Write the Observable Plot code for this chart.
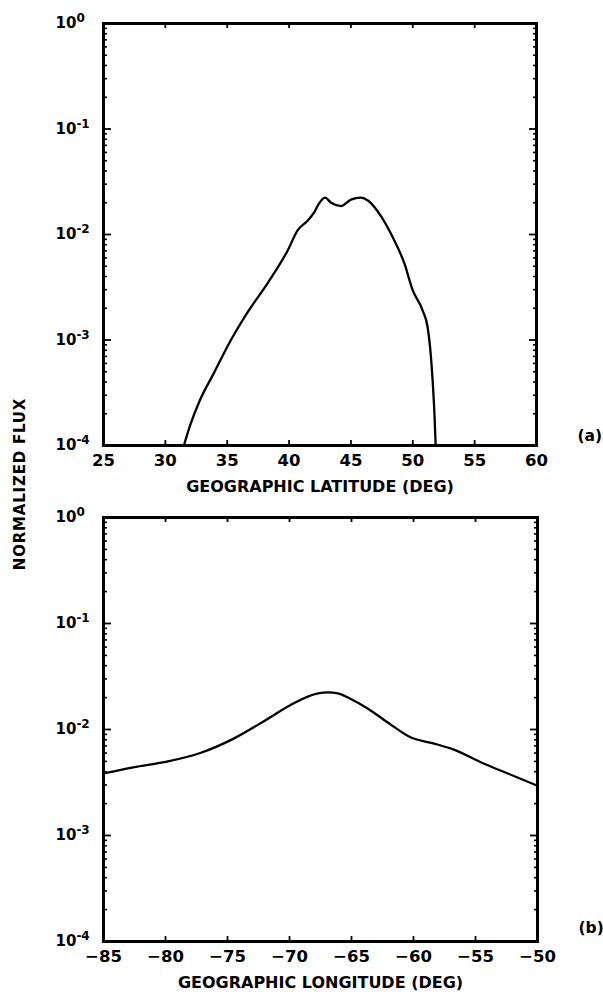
<!DOCTYPE html>
<html>
<head>
<meta charset="utf-8">
<script src="https://cdn.jsdelivr.net/npm/d3@7"></script>
<script src="https://cdn.jsdelivr.net/npm/@observablehq/plot@0.6"></script>
<style>
  body { margin: 0; background: #fff; }
  #fig { position: relative; width: 603px; height: 994px; background: #fff; color: #000;
         font-family: "DejaVu Sans", sans-serif; font-weight: bold; }
  #fig svg { position: absolute; left: 0; z-index: 0; }
  #ylabel { position: absolute; left: 20px; top: 484px; white-space: nowrap; z-index: 2;
            transform: translate(-50%, -50%) rotate(-90deg);
            font-size: 15px; letter-spacing: 0.8px; }
  g[aria-label="axis-title"] text { letter-spacing: 1.5px; }
</style>
</head>
<body>
<div id="fig"><div id="ylabel">NORMALIZED FLUX</div></div>
<script>
// (a) flux versus geographic latitude
const latitude = [31.5, 32.0, 32.8, 33.9, 35.3, 36.6, 38.3, 39.9, 40.7, 41.5, 42.0, 42.4, 42.9,
                  43.4, 44.2, 45.0, 45.8, 46.4, 47.4, 48.4, 49.3, 50.0, 50.8, 51.2, 51.4, 51.6, 51.75, 51.85];
const fluxLatitude = [1.0e-4, 1.55e-4, 2.7e-4, 4.8e-4, 1.0e-3, 1.8e-3, 3.5e-3, 7.1e-3, 1.1e-2, 1.35e-2, 1.6e-2, 1.95e-2, 2.24e-2,
                      2.0e-2, 1.86e-2, 2.14e-2, 2.24e-2, 2.09e-2, 1.51e-2, 9.3e-3, 5.4e-3, 2.95e-3, 1.9e-3, 1.32e-3, 8.5e-4, 4.2e-4, 2.0e-4, 1.0e-4];

// (b) flux versus geographic longitude
const longitude = [-85, -82.6, -79.8, -77.2, -74.5, -71.8, -69.7, -67.7, -66.9, -66.1, -65.1, -63.7,
                   -62.1, -60.2, -58.4, -56.8, -54.4, -52.4, -50];
const fluxLongitude = [3.85e-3, 4.4e-3, 5.0e-3, 6.0e-3, 8.2e-3, 1.25e-2, 1.76e-2, 2.19e-2, 2.24e-2, 2.19e-2, 1.95e-2, 1.58e-2,
                       1.17e-2, 8.4e-3, 7.4e-3, 6.5e-3, 4.8e-3, 3.85e-3, 2.95e-3];

// axis ticks
const latitudeTicks = [25, 30, 35, 40, 45, 50, 55, 60];
const longitudeTicks = [-85, -80, -75, -70, -65, -60, -55, -50];
const decades = [1e-4, 1e-3, 1e-2, 1e-1, 1];
const minorFlux = decades.slice(0, -1).flatMap(d => [2, 3, 4, 5, 6, 7, 8, 9].map(m => m * d));

const FONT = '"DejaVu Sans", sans-serif';

function panel({xs, ys, xDomain, xTicks, xTitle, tag, tagDy, top, marginTop, marginBottom, marginRight}) {
  const data = xs.map((x, i) => ({x, y: ys[i]}));
  // inward-pointing tick marks only (no labels)
  const ticksOnly = {fill: "none", label: null, stroke: "#000"};
  const tickAxesY = anchor => [
    Plot.axisY(minorFlux, {anchor, tickSize: -4, strokeWidth: 1.6, ...ticksOnly}),
    Plot.axisY(decades, {anchor, tickSize: -8, strokeWidth: 1.8, ...ticksOnly})
  ];
  const svg = Plot.plot({
    width: 603,
    height: 497,
    marginTop, marginBottom, marginRight,
    marginLeft: 103,
    style: {fontFamily: FONT, fontWeight: "bold", fontSize: "16.5px", background: "transparent", color: "#000", overflow: "visible"},
    x: {domain: xDomain, label: null},
    y: {type: "log", domain: [1e-4, 1], label: null},
    marks: [
      Plot.axisX(xTicks, {anchor: "bottom", tickSize: -5, strokeWidth: 1.8, ...ticksOnly}),
      Plot.axisX(xTicks, {anchor: "top", tickSize: -4, strokeWidth: 1.8, ...ticksOnly}),
      Plot.axisX(xTicks, {anchor: "bottom", tickSize: 0, tickPadding: 9, label: null}),
      ...tickAxesY("left"),
      ...tickAxesY("right"),
      Plot.axisY(decades, {
        anchor: "left", tickSize: 0, tickPadding: 48, textAnchor: "start", label: null, fontSize: 15,
        tickFormat: d => String(Math.round(Math.log10(d)))
      }),
      Plot.line(data, {x: "x", y: "y", curve: "monotone-x", stroke: "#000", strokeWidth: 2.3}),
      Plot.frame({stroke: "#000", strokeWidth: 3}),
      Plot.text([xTitle], {frameAnchor: "bottom", dy: 35, lineAnchor: "top", ariaLabel: "axis-title", fontSize: 16}),
      Plot.text([tag], {frameAnchor: "bottom-right", dx: 41, dy: tagDy, textAnchor: "start", fontSize: 15.5})
    ]
  });
  // powers of ten: "10" with a raised exponent
  d3.select(svg).selectAll('g[aria-label="y-axis tick label"] text').each(function () {
    const exponent = this.textContent;
    if (!exponent) return;
    this.textContent = "10";
    d3.select(this).append("tspan").attr("dy", "-0.5em").attr("font-size", "0.8em").text(exponent);
  });
  svg.style.top = top + "px";
  document.getElementById("fig").appendChild(svg);
}

panel({
  xs: latitude, ys: fluxLatitude, xDomain: [25, 60], xTicks: latitudeTicks,
  xTitle: "GEOGRAPHIC LATITUDE (DEG)", tag: "(a)", tagDy: -5,
  top: 0, marginTop: 23, marginBottom: 52, marginRight: 67
});
panel({
  xs: longitude, ys: fluxLongitude, xDomain: [-85, -50], xTicks: longitudeTicks,
  xTitle: "GEOGRAPHIC LONGITUDE (DEG)", tag: "(b)", tagDy: -9,
  top: 497, marginTop: 20, marginBottom: 53, marginRight: 66
});
</script>
</body>
</html>
